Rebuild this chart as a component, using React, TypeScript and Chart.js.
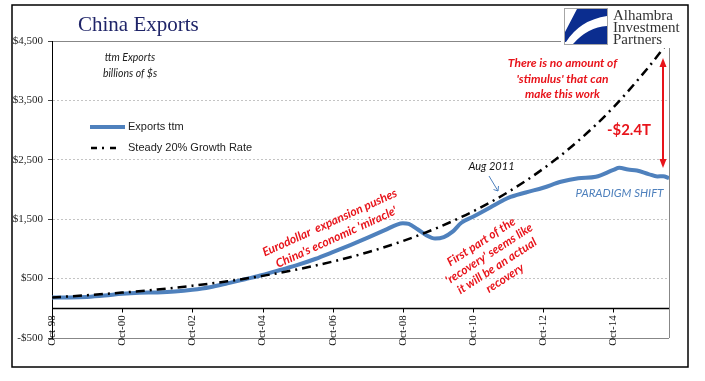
import { useEffect, useRef } from 'react';
import { Chart, registerables } from 'chart.js';

Chart.register(...registerables);

// ---------- data ----------
const startDate = '1998-10';
const endDate = '2016-05';

const tickDates = ['1998-10', '2000-10', '2002-10', '2004-10', '2006-10', '2008-10', '2010-10', '2012-10', '2014-10'];
const tickLabels = ['Oct-98', 'Oct-00', 'Oct-02', 'Oct-04', 'Oct-06', 'Oct-08', 'Oct-10', 'Oct-12', 'Oct-14'];

// Exports ttm, billions of US$
const exportDates = [
  '1998-10', '1999-04', '1999-10', '2000-04', '2000-10', '2001-04', '2001-10', '2002-04', '2002-10',
  '2003-04', '2003-10', '2004-04', '2004-10', '2005-04', '2005-10', '2006-04', '2006-10', '2007-04',
  '2007-10', '2008-04', '2008-08', '2008-10', '2008-12', '2009-03', '2009-06', '2009-09', '2009-12',
  '2010-03', '2010-06', '2010-10', '2011-04', '2011-08', '2011-10', '2012-04', '2012-10', '2013-04',
  '2013-10', '2014-04', '2014-10', '2014-12', '2015-03', '2015-06', '2015-10', '2016-01', '2016-03',
  '2016-05',
];
const exportValues = [
  180, 182, 192, 215, 245, 262, 268, 283, 312,
  355, 420, 490, 560, 645, 730, 830, 945, 1065,
  1190, 1320, 1410, 1432, 1420, 1330, 1230, 1175, 1200,
  1290, 1440, 1540, 1700, 1810, 1860, 1950, 2030, 2130,
  2190, 2215, 2330, 2365, 2335, 2320, 2260, 2220, 2225,
  2190,
];

// Steady 20% growth rate path
const growthDates = [
  '1998-10', '1999-10', '2000-10', '2001-10', '2002-10', '2003-10', '2004-10', '2005-10', '2006-10',
  '2007-10', '2008-10', '2009-10', '2010-10', '2011-10', '2012-10', '2013-10', '2014-10', '2015-10',
  '2016-05',
];
const growthValues = [
  183, 220, 264, 316, 380, 455, 546, 656, 787,
  944, 1133, 1360, 1632, 1958, 2350, 2820, 3384, 4060,
  4500,
];

const seriesNames = ['Exports ttm', 'Steady 20% Growth Rate'];

// ---------- helpers ----------
function monthIndex(d: string): number {
  const [y0, m0] = startDate.split('-').map(Number);
  const [y, m] = d.split('-').map(Number);
  return (y - y0) * 12 + (m - m0);
}

const BLUE = '#4F81BD';
const RED = '#E8141B';

function drawLines(
  ctx: CanvasRenderingContext2D,
  lines: string[],
  cx: number,
  cy: number,
  lineH: number,
  font: string,
  color: string,
  angleDeg = 0,
  widths?: number[],
) {
  ctx.save();
  ctx.translate(cx, cy);
  ctx.rotate((angleDeg * Math.PI) / 180);
  ctx.font = font;
  ctx.fillStyle = color;
  ctx.textAlign = 'center';
  ctx.textBaseline = 'middle';
  lines.forEach((t, i) => {
    const y = (i - (lines.length - 1) / 2) * lineH;
    if (widths && widths[i]) ctx.fillText(t, 0, y, widths[i]);
    else ctx.fillText(t, 0, y);
  });
  ctx.restore();
}

function arrowHead(ctx: CanvasRenderingContext2D, x: number, y: number, dir: number, w: number, l: number) {
  ctx.beginPath();
  ctx.moveTo(x, y);
  ctx.lineTo(x - w / 2, y - dir * l);
  ctx.lineTo(x + w / 2, y - dir * l);
  ctx.closePath();
  ctx.fill();
}

const decorPlugin = {
  id: 'decor',
  afterDraw(chart: any) {
    const ctx: CanvasRenderingContext2D = chart.ctx;
    const area = chart.chartArea;
    const xs = chart.scales.x;
    const ys = chart.scales.y;
    ctx.save();

    // category axis crossing at zero
    const y0 = Math.round(ys.getPixelForValue(0)) + 0.5;
    ctx.strokeStyle = '#000';
    ctx.lineWidth = 1.5;
    ctx.beginPath();
    ctx.moveTo(area.left, y0);
    ctx.lineTo(area.right, y0);
    ctx.stroke();
    ctx.lineWidth = 1;
    xs.ticks.forEach((t: any) => {
      const px = Math.round(xs.getPixelForValue(t.value)) + 0.5;
      ctx.beginPath();
      ctx.moveTo(px, y0);
      ctx.lineTo(px, y0 + 4);
      ctx.stroke();
    });

    // cover plot corner behind logo
    ctx.fillStyle = '#fff';
    ctx.fillRect(561, 6, 126, 42);

    // plot area right border
    ctx.strokeStyle = '#878787';
    ctx.lineWidth = 1;
    ctx.beginPath();
    ctx.moveTo(Math.round(area.right) + 0.5, 48);
    ctx.lineTo(Math.round(area.right) + 0.5, area.bottom);
    ctx.stroke();

    // title
    ctx.font = '21px "Liberation Serif"';
    ctx.fillStyle = '#1F2468';
    ctx.textAlign = 'left';
    ctx.textBaseline = 'alphabetic';
    ctx.fillText('China Exports', 78, 31);

    // logo
    ctx.fillStyle = '#fff';
    ctx.fillRect(564, 8, 44, 37);
    ctx.strokeStyle = '#A6A6A6';
    ctx.strokeRect(564.5, 8.5, 43, 36);
    ctx.fillStyle = '#0B2D8F';
    ctx.beginPath();
    ctx.moveTo(577, 9);
    ctx.lineTo(607, 9);
    ctx.lineTo(607, 16);
    ctx.quadraticCurveTo(580, 20, 566, 42);
    ctx.lineTo(565, 42);
    ctx.lineTo(565, 32);
    ctx.closePath();
    ctx.fill();
    ctx.beginPath();
    ctx.moveTo(573, 44);
    ctx.quadraticCurveTo(588, 27, 607, 26);
    ctx.lineTo(607, 44);
    ctx.closePath();
    ctx.fill();
    ctx.font = '15px "Liberation Serif"';
    ctx.fillStyle = '#333';
    ctx.textAlign = 'left';
    ctx.fillText('Alhambra', 613, 20);
    ctx.fillText('Investment', 613, 32);
    ctx.fillText('Partners', 613, 44);

    // units note
    drawLines(ctx, ['ttm Exports', 'billions of $s'], 130, 65.5, 15.5, 'italic 10.5px Lato', '#222');

    // legend
    const ds = chart.data.datasets;
    ctx.lineCap = 'butt';
    ctx.strokeStyle = ds[1].borderColor;
    ctx.lineWidth = 4;
    ctx.beginPath();
    ctx.moveTo(90, 127);
    ctx.lineTo(125, 127);
    ctx.stroke();
    ctx.strokeStyle = ds[0].borderColor;
    ctx.lineWidth = 2.5;
    ctx.setLineDash([6, 5, 2, 6]);
    ctx.beginPath();
    ctx.moveTo(91, 148);
    ctx.lineTo(120, 148);
    ctx.stroke();
    ctx.setLineDash([]);
    ctx.font = '11px "Liberation Sans"';
    ctx.fillStyle = '#222';
    ctx.textBaseline = 'middle';
    ctx.textAlign = 'left';
    ctx.fillText(ds[1].label, 128, 127);
    ctx.fillText(ds[0].label, 128, 148);

    // red annotations
    drawLines(
      ctx,
      ['There is no amount of', "'stimulus' that can", 'make this work'],
      562.5, 79, 15.5, 'italic bold 12px Lato', RED, 0, [110, 92, 75],
    );
    drawLines(ctx, ['-$2.4T'], 629, 130, 0, 'bold 16px Lato', RED, 0, [44]);
    drawLines(
      ctx,
      ['Eurodollar  expansion pushes', "China's economic 'miracle'"],
      333, 230, 16, 'italic bold 12px Lato', RED, -24.5, [150, 136],
    );
    drawLines(
      ctx,
      ['First part of the', "'recovery' seems like", 'it will be an actual', 'recovery'],
      493, 260, 14.5, 'italic bold 12px Lato', RED, -33,
    );

    // red double arrow
    ctx.strokeStyle = RED;
    ctx.fillStyle = RED;
    ctx.lineWidth = 2;
    ctx.beginPath();
    ctx.moveTo(663, 66);
    ctx.lineTo(663, 160);
    ctx.stroke();
    arrowHead(ctx, 663, 58, -1, 7, 9);
    arrowHead(ctx, 663, 168, 1, 7, 9);

    // Aug 2011 note
    drawLines(ctx, ['Aug 2011'], 491.5, 166, 0, 'italic 11px Lato', '#111');
    ctx.strokeStyle = BLUE;
    ctx.lineWidth = 1;
    ctx.beginPath();
    ctx.moveTo(489, 176);
    ctx.lineTo(498, 191);
    ctx.stroke();
    ctx.beginPath();
    ctx.moveTo(493.5, 189.5);
    ctx.lineTo(498, 191);
    ctx.lineTo(498.5, 186);
    ctx.stroke();

    // paradigm shift
    drawLines(ctx, ['PARADIGM SHIFT'], 619.5, 193, 0, 'italic 12px Lato', BLUE, 0, [88]);

    // outer frame
    ctx.strokeStyle = '#000';
    ctx.lineWidth = 1.5;
    ctx.strokeRect(12, 5, 676, 362);

    ctx.restore();
  },
};

export default function App() {
  const ref = useRef<HTMLCanvasElement>(null);

  useEffect(() => {
    const canvas = ref.current;
    if (!canvas) return;
    Chart.defaults.font.family = '"Liberation Serif"';

    const exportPoints = exportDates.map((d, i) => ({ x: monthIndex(d), y: exportValues[i] }));
    const growthPoints = growthDates.map((d, i) => ({ x: monthIndex(d), y: growthValues[i] }));
    const tickMonths = tickDates.map(monthIndex);

    const chart = new Chart(canvas, {
      type: 'line',
      data: {
        datasets: [
          {
            label: seriesNames[1],
            data: growthPoints,
            borderColor: '#000',
            borderWidth: 2.5,
            borderDash: [9, 5, 2, 5],
            pointRadius: 0,
            cubicInterpolationMode: 'monotone',
            order: 0,
          },
          {
            label: seriesNames[0],
            data: exportPoints,
            borderColor: BLUE,
            borderWidth: 4,
            pointRadius: 0,
            cubicInterpolationMode: 'monotone',
            order: 1,
          },
        ],
      },
      options: {
        animation: false,
        responsive: false,
        devicePixelRatio: 1,
        layout: { padding: { left: 0, right: 36, top: 41, bottom: 43 } },
        plugins: { legend: { display: false }, tooltip: { enabled: false } },
        scales: {
          x: {
            type: 'linear',
            position: { y: 0 } as any,
            min: monthIndex(startDate),
            max: monthIndex(endDate),
            afterBuildTicks: (s: any) => {
              s.ticks = tickMonths.map((v) => ({ value: v }));
            },
            ticks: {
              autoSkip: false,
              minRotation: 90,
              maxRotation: 90,
              padding: 3,
              color: '#111',
              font: { size: 11, family: '"Liberation Serif"' },
              callback: (v: any) => {
                const i = tickMonths.indexOf(Number(v));
                return i >= 0 ? tickLabels[i] : '';
              },
            },
            grid: { display: false, tickLength: 4 },
            border: { display: false },
          },
          y: {
            min: -500,
            max: 4500,
            afterFit: (s: any) => {
              s.width = 52;
            },
            ticks: {
              stepSize: 1000,
              padding: 5,
              color: '#222',
              font: { size: 11, family: '"Liberation Serif"' },
              callback: (v: any) => {
                const n = Number(v);
                const s = '$' + Math.abs(n).toLocaleString('en-US');
                return n < 0 ? '-' + s : s;
              },
            },
            grid: {
              color: (c: any) =>
                c.tick && (c.tick.value === -500 || c.tick.value === 4500) ? '#878787' : '#C4C4C4',
              lineWidth: 1,
              tickLength: 4,
              tickColor: '#444',
            },
            border: {
              color: '#000',
              width: 1,
              dash: (c: any) =>
                c.tick && (c.tick.value === -500 || c.tick.value === 4500) ? [] : [2, 2],
            } as any,
          },
        },
      },
      plugins: [decorPlugin],
    });

    return () => chart.destroy();
  }, []);

  return (
    <div style={{ position: 'fixed', left: 0, top: 0, width: 705, height: 381, background: '#fff' }}>
      <canvas ref={ref} width={705} height={381} style={{ display: 'block', width: 705, height: 381 }} />
    </div>
  );
}
